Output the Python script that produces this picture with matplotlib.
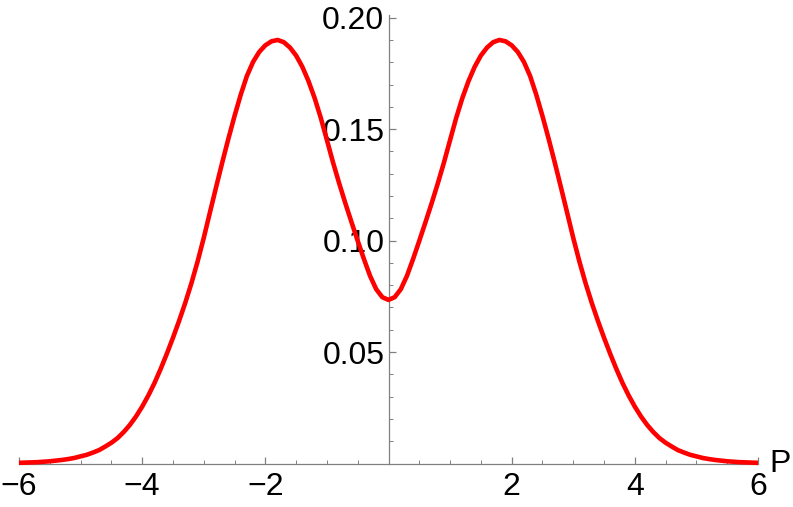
import numpy as np
import matplotlib.pyplot as plt
from matplotlib.ticker import MultipleLocator, FixedLocator

# curve at P = 0, 0.1, ..., 6 (it is symmetric about P = 0)
p_right = [round(0.1 * i, 1) for i in range(61)]
prob_right = [0.0734, 0.0746, 0.0782, 0.0842, 0.0918, 0.0999, 0.1082, 0.1167, 0.1256, 0.1350,
              0.1451, 0.1551, 0.1640, 0.1716, 0.1780, 0.1830, 0.1866, 0.1890, 0.1900, 0.1894,
              0.1876, 0.1846, 0.1801, 0.1738, 0.1654, 0.1559, 0.1457, 0.1350, 0.1239, 0.1126,
              0.1012, 0.0906, 0.0809, 0.0721, 0.0640, 0.0564, 0.0492, 0.0424, 0.0361, 0.0305,
              0.0255, 0.0211, 0.0173, 0.0141, 0.0114, 0.0093, 0.0076, 0.0060, 0.0049, 0.0039,
              0.0032, 0.0025, 0.0020, 0.0016, 0.0013, 0.0010, 0.0008, 0.0006, 0.0005, 0.0004, 0.0003]

p_vals = [-p for p in p_right[:0:-1]] + p_right
prob = prob_right[:0:-1] + prob_right

x_ticks = [-6, -4, -2, 2, 4, 6]
y_ticks = [0.05, 0.10, 0.15, 0.20]

plt.rcParams['font.family'] = ['Liberation Sans', 'DejaVu Sans']

W, H = 793, 507
fig = plt.figure(figsize=(W / 100, H / 100), dpi=100)
left, right, top, bottom = 19, 758, 15, 463.5
ax = fig.add_axes([left / W, (H - bottom) / H, (right - left) / W, (bottom - top) / H])

ax.plot(p_vals, prob, color='#ff0000', lw=3.3, solid_capstyle='butt',
        solid_joinstyle='round', zorder=5, clip_on=False)

ax.set_xlim(-6, 6)
ax.set_ylim(0, 0.2012)

axis_col = '#808080'
for s in ['top', 'right']:
    ax.spines[s].set_visible(False)
ax.spines['left'].set_position(('data', 0))
ax.spines['bottom'].set_position(('data', 0))
for s in ['left', 'bottom']:
    ax.spines[s].set_color(axis_col)
    ax.spines[s].set_linewidth(0.9)

ax.xaxis.set_major_locator(FixedLocator(x_ticks))
ax.xaxis.set_minor_locator(MultipleLocator(0.5))
ax.yaxis.set_major_locator(FixedLocator(y_ticks))
ax.yaxis.set_minor_locator(MultipleLocator(0.01))
ax.set_xticklabels([f"{t:d}".replace('-', '\u2212') for t in x_ticks])
ax.set_yticklabels([f"{t:.2f}" for t in y_ticks])

ax.tick_params(axis='both', which='both', direction='in', color=axis_col,
               labelsize=23, labelcolor='black')
ax.tick_params(axis='both', which='major', length=5, width=0.9)
ax.tick_params(axis='both', which='minor', length=3, width=0.7)
ax.tick_params(axis='x', which='major', pad=6)
ax.tick_params(axis='y', which='major', pad=3)

ax.annotate('P', xy=(1, 0), xycoords='axes fraction', xytext=(8, 0),
            textcoords='offset points', ha='left', va='center', fontsize=23)

fig.savefig('out.png', dpi=100)
